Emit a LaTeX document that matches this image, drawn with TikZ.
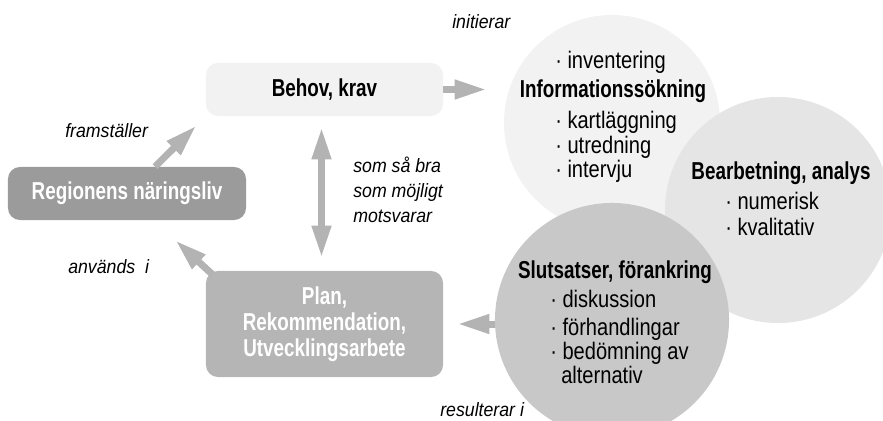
\documentclass[tikz,border=0pt]{standalone}
\usepackage{fontspec}
\setmainfont{Liberation Sans}[FakeStretch=0.84]
\newfontfamily\rubrikfont{Liberation Sans}[FakeStretch=0.77]
\newfontfamily\etikettfont{Liberation Sans}[FakeStretch=0.92]
\usetikzlibrary{arrows.meta}

\definecolor{pilgra}{HTML}{B3B3B3}
\definecolor{ljusgra}{HTML}{F2F2F2}
\definecolor{morkgra}{HTML}{9B9B9B}
\definecolor{mellangra}{HTML}{B5B5B5}
\definecolor{infogra}{HTML}{F2F2F2}
\definecolor{analysgra}{HTML}{E5E5E5}
\definecolor{slutgra}{HTML}{C8C8C8}

\tikzset{
    pil/.style={line width=0.175cm, draw=pilgra, -{Triangle[length=0.8cm,width=0.45cm]}},
    dubbelpil/.style={line width=0.175cm, draw=pilgra, {Triangle[length=0.8cm,width=0.45cm]}-{Triangle[length=0.8cm,width=0.45cm]}},
    ruta/.style={rectangle, rounded corners=0.3cm, minimum width=5.925cm, minimum height=1.325cm, inner sep=0},
    cirkel/.style={circle, inner sep=0},
    rubrik/.style={inner sep=0, font=\rubrikfont\bfseries\fontsize{17.4}{18.5}\selectfont},
    punkt/.style={inner sep=0, anchor=base west, font=\fontsize{17}{17}\selectfont},
    etikett/.style={inner sep=0, anchor=base west, font=\etikettfont\itshape\fontsize{13.7}{17.5}\selectfont}
}

\begin{document}
\begin{tikzpicture}[x=0.025cm, y=-0.025cm]
        \clip (0,0) rectangle (883,421);

        % Boxes
        \node[ruta, fill=ljusgra, rubrik] (behov) at (324.5,89.5) {Behov, krav};
        \node[ruta, fill=morkgra, rubrik, text=white, minimum width=5.95cm] (region) at (127,193.5) {Regionens näringsliv};
        \node[ruta, fill=mellangra, rubrik, text=white, minimum height=2.65cm, align=center] (plan) at (324.5,324) {Plan,\\Rekommendation,\\Utvecklingsarbete};

        % Circles
        \node[cirkel, fill=infogra, minimum size=5.4cm] (info) at (612,123) {};
        \node[cirkel, fill=analysgra, minimum size=5.65cm] (analys) at (778,210) {};
        \node[cirkel, fill=slutgra, minimum size=5.85cm] (slut) at (612,320) {};

        % Circle texts
        \node[punkt] (inv) at (555,68) {· inventering};
        \node[rubrik, anchor=base] (infotitel) at (613,97) {Informationssökning};
        \node[punkt] (kart) at (555,128) {· kartläggning};
        \node[punkt] (utr) at (555,153) {· utredning};
        \node[punkt] (intv) at (555,177) {· intervju};

        \node[rubrik, anchor=base] (analystitel) at (781,179) {Bearbetning, analys};
        \node[punkt] (num) at (725,209) {· numerisk};
        \node[punkt] (kval) at (725,235) {· kvalitativ};

        \node[rubrik, anchor=base] (sluttitel) at (615,278) {Slutsatser, förankring};
        \node[punkt] (disk) at (550,307) {· diskussion};
        \node[punkt] (forh) at (550,335) {· förhandlingar};
        \node[punkt] (bedom) at (550,359) {· bedömning av};
        \node[punkt] (alt) at (561,383) {alternativ};

        % Labels
        \node[etikett] (initierar) at (452,28) {initierar};
        \node[etikett] (framst) at (65,137) {framställer};
        \node[etikett] (som1) at (353,172) {som så bra};
        \node[etikett] (som2) at (353,197) {som möjligt};
        \node[etikett] (mots) at (353,222) {motsvarar};
        \node[etikett] (anvands) at (68,273) {används\ \ i};
        \node[etikett] (result) at (440,416) {resulterar i};

        % Arrows
        \draw[pil, shorten >=0.425cm] (behov.east) -- (behov.east -| info.west);
        \draw[pil, shorten >=0.33cm] ([xshift=0.7cm]region.north) -- (behov.south west);
        \draw[dubbelpil, shorten <=0.275cm, shorten >=0.325cm] ([xshift=-0.075cm]behov.south) -- ([xshift=-0.075cm]plan.north);
        \draw[pil] ([shift={(7,4)}]plan.north west) -- ([shift={(-71,20)}]region.south east);
        \draw[pil, shorten >=0.35cm] (slut.west |- plan.east) -- (plan.east);
\end{tikzpicture}
\end{document}
